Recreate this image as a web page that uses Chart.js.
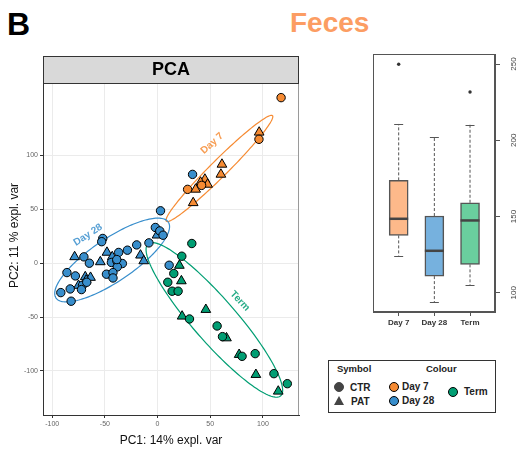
<!DOCTYPE html>
<html>
<head>
<meta charset="utf-8">
<script src="https://cdn.jsdelivr.net/npm/chart.js@4.4.0/dist/chart.umd.min.js"></script>
<style>
  body {
    margin: 0;
    width: 525px;
    height: 450px;
    background: #fff;
    position: relative;
    overflow: hidden;
    font-family: "Liberation Sans", Arial, sans-serif;
  }
  .txt { position: absolute; line-height: 1; white-space: nowrap; }
  canvas { position: absolute; top: 0; }
  #pca { left: 0; }
  #box { left: 360px; }
  #legenda {
    position: absolute; left: 328px; top: 360px;
    width: 168px; height: 53px; box-sizing: border-box;
    border: 1px solid #333;
  }
  .bola { position: absolute; width: 8px; height: 8px; border-radius: 50%; border: 1px solid #000; }
  .tri {
    position: absolute; width: 0; height: 0;
    border-left: 5px solid transparent; border-right: 5px solid transparent;
    border-bottom: 9px solid #444;
  }
</style>
</head>
<body>

<div class="txt" style="left:7px; top:8px; font-size:32px; font-weight:bold;">B</div>
<div class="txt" style="left:290px; top:9px; font-size:28px; font-weight:bold; color:#fc9d63;">Feces</div>

<canvas id="pca" width="310" height="450"></canvas>
<canvas id="box" width="165" height="340"></canvas>

<div id="legenda"></div>
<div class="txt" style="left:337px; top:364px; font-size:9.5px; font-weight:bold; color:#222;">Symbol</div>
<div class="txt" style="left:426px; top:364px; font-size:9.5px; font-weight:bold; color:#222;">Colour</div>

<div class="bola" style="left:334px; top:382px; background:#444; border-color:#444;"></div>
<div class="txt" style="left:350px; top:383px; font-size:10px; font-weight:bold; color:#222;">CTR</div>
<div class="tri" style="left:334px; top:396px;"></div>
<div class="txt" style="left:351px; top:397px; font-size:10px; font-weight:bold; color:#222;">PAT</div>

<div class="bola" style="left:389px; top:382px; background:#F68B33;"></div>
<div class="txt" style="left:402px; top:382px; font-size:10px; font-weight:bold; color:#222;">Day 7</div>
<div class="bola" style="left:389px; top:396px; background:#388ECC;"></div>
<div class="txt" style="left:402px; top:396px; font-size:10px; font-weight:bold; color:#222;">Day 28</div>
<div class="bola" style="left:448px; top:387px; background:#009E73;"></div>
<div class="txt" style="left:464px; top:387px; font-size:10px; font-weight:bold; color:#222;">Term</div>

<script>
//--------------------------------------------------
// DADOS — PCA (PC1, PC2)
//--------------------------------------------------

const grupos      = ['Day 7', 'Day 28', 'Term'];
const coresGrupos = ['#F68B33', '#388ECC', '#009E73'];

const day7CTR = [[117.2,153.8],[96.2,115.1],[41.8,72.3],[28.5,68.6]];
const day7PAT = [[96.4,121.6],[61.1,91.8],[60.1,82.5],[44.9,77.9],[40.8,75.1],
                 [47.5,73.2],[36.1,68.6],[33.8,56.1]];

const day28CTR = [[-2.1,33.2],[2.1,30.0],[5.2,26.0],[-52,23],[-53,20],[-8.2,18.9],
                  [-19.8,17],[-28.6,12.1],[-36.9,10],[-69.9,5.9],[-64.7,0],[-43.8,0.7],
                  [-38.5,1.9],[-33.4,-0.3],[-38.2,-3.4],[-86,-8.7],[-78,-11.8],[-48.5,-10.2],
                  [-42.3,-8.7],[-42.3,-13.7],[-71.2,-20.5],[-72.2,-24.5],[-82.9,-23.9],
                  [-91.8,-27.3],[-82,-35.3],[33.2,82.5],[2.8,48.7],[11,-1.9],[-67.2,-17.7],
                  [-38.7,3.4]];
const day28PAT = [[-0.5,26.0],[-48,10],[-78.7,5.9],[-43,5.9],[-16.2,7.4],[-54.3,1.2],
                  [-13.1,2.1],[-68.6,-12.7],[-63.6,-13.3],[-67.7,-15.8],[-75,-20.7]];

const termCTR = [[32.5,18.3],[23.0,6.5],[15.4,-9.6],[9.7,-17.7],[13.8,-26],[19.5,-26],
                 [30.3,-51.8],[56.5,-58.3],[61.6,-68.2],[80.2,-86.5],[92.6,-84],
                 [110.4,-102.6],[123.1,-111.9]];
const termPAT = [[20.7,-2.1],[22.6,-16.5],[45.8,-43.1],[23.3,-49.3],[65.4,-69.5],
                 [77.4,-84.9],[93.3,-103.5],[114.5,-119]];

const pcaTicksX = [-100, -50, 0, 50, 100];
const pcaTicksY = [-100, -50, 0, 50, 100];

// rótulos das elipses (posição em unidades do PCA)
const rotuloX     = [51.8, -66.0, 78.1];
const rotuloY     = [111.3, 26.3, -35.1];
const rotuloAngle = [-42, -33, 47];

//--------------------------------------------------
// DADOS — BOXPLOT
//--------------------------------------------------

const boxCats   = ['Day 7', 'Day 28', 'Term'];
const boxLow    = [124.2, 93.7, 105.0];
const boxQ1     = [137.6, 110.9, 118.6];
const boxMed    = [148.5, 127.5, 147.4];
const boxQ3     = [173.7, 150.3, 159.0];
const boxHigh   = [210.7, 202.2, 210.3];
const outGrupo  = ['Day 7', 'Term'];
const outValor  = [249.9, 231.7];
const boxTicks  = [100, 150, 200, 250];
const boxCores  = ['#FDB98A', '#76B1DE', '#6ACF9E'];

//--------------------------------------------------
// ELIPSE DE CONFIANÇA (covariância do grupo)
//--------------------------------------------------

const nivelT = 1.75;

function elipse(pontos, t) {
  const n  = pontos.length;
  const mx = pontos.reduce((s, p) => s + p[0], 0) / n;
  const my = pontos.reduce((s, p) => s + p[1], 0) / n;
  let sxx = 0, syy = 0, sxy = 0;
  pontos.forEach(p => {
    sxx += (p[0] - mx) ** 2;
    syy += (p[1] - my) ** 2;
    sxy += (p[0] - mx) * (p[1] - my);
  });
  sxx /= n - 1; syy /= n - 1; sxy /= n - 1;
  const tr = (sxx + syy) / 2;
  const d  = Math.sqrt(((sxx - syy) / 2) ** 2 + sxy ** 2);
  const l1 = tr + d, l2 = Math.max(tr - d, 0);
  return { mx, my, a: t * Math.sqrt(l1), b: t * Math.sqrt(l2), ang: Math.atan2(l1 - sxx, sxy) };
}

const pontosGrupo = [
  day7CTR.concat(day7PAT),
  day28CTR.concat(day28PAT),
  termCTR.concat(termPAT)
];

//--------------------------------------------------
// PLUGIN PCA — elipses, faixa "PCA", título Y
//--------------------------------------------------

const pcaExtras = {
  id: 'pcaExtras',
  beforeDatasetsDraw(chart) {
    const { ctx, scales: { x, y } } = chart;
    ctx.save();
    pontosGrupo.forEach((pts, i) => {
      const e = elipse(pts, nivelT);
      ctx.beginPath();
      for (let k = 0; k <= 160; k++) {
        const th = k / 160 * 2 * Math.PI;
        const dx = e.a * Math.cos(th), dy = e.b * Math.sin(th);
        const vx = e.mx + dx * Math.cos(e.ang) - dy * Math.sin(e.ang);
        const vy = e.my + dx * Math.sin(e.ang) + dy * Math.cos(e.ang);
        const px = x.getPixelForValue(vx), py = y.getPixelForValue(vy);
        if (k === 0) ctx.moveTo(px, py); else ctx.lineTo(px, py);
      }
      ctx.strokeStyle = coresGrupos[i];
      ctx.lineWidth = 1.2;
      ctx.stroke();
    });
    ctx.restore();
  },
  afterDatasetsDraw(chart) {
    const { ctx, scales: { x, y } } = chart;
    ctx.save();
    ctx.font = 'bold 10px "Liberation Sans", Arial, sans-serif';
    ctx.textAlign = 'center';
    ctx.textBaseline = 'middle';
    grupos.forEach((g, i) => {
      ctx.save();
      ctx.translate(x.getPixelForValue(rotuloX[i]), y.getPixelForValue(rotuloY[i]));
      ctx.rotate(rotuloAngle[i] * Math.PI / 180);
      ctx.fillStyle = coresGrupos[i];
      ctx.globalAlpha = 0.85;
      ctx.fillText(g, 0, 0);
      ctx.restore();
    });
    ctx.restore();
  },
  afterDraw(chart) {
    const { ctx, chartArea: a } = chart;
    const topo = a.top - 27;
    ctx.save();

    // moldura clara (direita)
    ctx.strokeStyle = '#9a9a9a';
    ctx.lineWidth = 1;
    ctx.beginPath();
    ctx.moveTo(a.right - 0.5, a.top);
    ctx.lineTo(a.right - 0.5, a.bottom);
    ctx.stroke();

    // faixa do título
    ctx.fillStyle = '#d9d9d9';
    ctx.fillRect(a.left, topo, a.right - a.left, 27);
    ctx.strokeStyle = '#333';
    ctx.strokeRect(a.left + 0.5, topo + 0.5, a.right - a.left - 1, 27);
    ctx.fillStyle = '#000';
    ctx.font = 'bold 18px "Liberation Sans", Arial, sans-serif';
    ctx.textAlign = 'center';
    ctx.textBaseline = 'middle';
    ctx.fillText('PCA', (a.left + a.right) / 2, topo + 14);

    // título do eixo Y (centrado no painel com a faixa)
    ctx.translate(15, (topo + a.bottom) / 2);
    ctx.rotate(-Math.PI / 2);
    ctx.font = '12px "Liberation Sans", Arial, sans-serif';
    ctx.fillStyle = '#111';
    ctx.fillText('PC2: 11 % expl. var', 0, 0);
    ctx.restore();
  }
};

//--------------------------------------------------
// GRÁFICO PCA
//--------------------------------------------------

const series = [
  { g: 0, estilo: 'circle',   pts: day7CTR },
  { g: 0, estilo: 'triangle', pts: day7PAT },
  { g: 1, estilo: 'circle',   pts: day28CTR },
  { g: 1, estilo: 'triangle', pts: day28PAT },
  { g: 2, estilo: 'circle',   pts: termCTR },
  { g: 2, estilo: 'triangle', pts: termPAT }
];

const fonte = '"Liberation Sans", Arial, sans-serif';

new Chart(document.getElementById('pca'), {
  type: 'scatter',
  data: {
    datasets: series.map(s => ({
      label: grupos[s.g],
      data: s.pts.map(p => ({ x: p[0], y: p[1] })),
      pointStyle: s.estilo,
      pointRadius: s.estilo === 'circle' ? 4.2 : 5.6,
      backgroundColor: coresGrupos[s.g],
      borderColor: '#000',
      borderWidth: 1
    }))
  },
  options: {
    responsive: false,
    animation: false,
    layout: { padding: { top: 83, right: 11, bottom: 0, left: 0 } },
    plugins: { legend: { display: false }, tooltip: { enabled: false } },
    scales: {
      x: {
        type: 'linear',
        min: -108.7,
        max: 134.2,
        afterBuildTicks: sc => { sc.ticks = pcaTicksX.map(v => ({ value: v })); },
        afterFit: sc => { sc.height = 35; },
        ticks: { color: '#666', font: { family: fonte, size: 7 }, padding: 2 },
        grid: { color: '#ebebeb', tickColor: '#333', tickLength: 3 },
        border: { color: '#333', width: 1 },
        title: {
          display: true,
          text: 'PC1: 14% expl. var',
          color: '#111',
          font: { family: fonte, size: 12 },
          padding: { top: 0, bottom: 2 }
        }
      },
      y: {
        type: 'linear',
        min: -141,
        max: 167.4,
        afterBuildTicks: sc => { sc.ticks = pcaTicksY.map(v => ({ value: v })); },
        afterFit: sc => { sc.width = 43; },
        ticks: { color: '#666', font: { family: fonte, size: 7 }, padding: 2 },
        grid: { color: '#ebebeb', tickColor: '#333', tickLength: 3 },
        border: { color: '#333', width: 1 }
      }
    }
  },
  plugins: [pcaExtras]
});

//--------------------------------------------------
// PLUGIN BOXPLOT — bigodes, medianas, moldura
//--------------------------------------------------

const boxExtras = {
  id: 'boxExtras',
  afterDatasetsDraw(chart) {
    const { ctx, chartArea: a, scales: { x, y } } = chart;
    ctx.save();
    boxCats.forEach((c, i) => {
      const cx = x.getPixelForValue(i + 1);

      // bigodes tracejados
      ctx.strokeStyle = '#555';
      ctx.lineWidth = 1;
      ctx.setLineDash([3, 2]);
      ctx.beginPath();
      ctx.moveTo(cx, y.getPixelForValue(boxQ3[i]));
      ctx.lineTo(cx, y.getPixelForValue(boxHigh[i]));
      ctx.moveTo(cx, y.getPixelForValue(boxQ1[i]));
      ctx.lineTo(cx, y.getPixelForValue(boxLow[i]));
      ctx.stroke();

      // hastes
      ctx.setLineDash([]);
      ctx.beginPath();
      [boxHigh[i], boxLow[i]].forEach(v => {
        const py = Math.round(y.getPixelForValue(v)) + 0.5;
        ctx.moveTo(cx - 4.5, py);
        ctx.lineTo(cx + 4.5, py);
      });
      ctx.stroke();

      // mediana
      ctx.strokeStyle = '#444';
      ctx.lineWidth = 2.5;
      ctx.beginPath();
      const pm = y.getPixelForValue(boxMed[i]);
      ctx.moveTo(cx - 9.5, pm);
      ctx.lineTo(cx + 9.5, pm);
      ctx.stroke();
    });

    // moldura
    ctx.strokeStyle = '#555';
    ctx.lineWidth = 1;
    ctx.strokeRect(a.left + 0.5, a.top + 0.5, a.right - a.left - 1, a.bottom - a.top - 1);

    // rótulos do eixo Y (girados)
    ctx.fillStyle = '#444';
    ctx.font = '8px ' + fonte;
    ctx.textAlign = 'center';
    ctx.textBaseline = 'middle';
    boxTicks.forEach(v => {
      ctx.save();
      ctx.translate(a.right + 19, y.getPixelForValue(v));
      ctx.rotate(-Math.PI / 2);
      ctx.fillText(String(v), 0, 0);
      ctx.restore();
    });
    ctx.restore();
  }
};

//--------------------------------------------------
// GRÁFICO BOXPLOT
//--------------------------------------------------

new Chart(document.getElementById('box'), {
  type: 'bar',
  data: {
    datasets: [
      {
        type: 'bar',
        data: boxCats.map((c, i) => ({ x: i + 1, y: [boxQ1[i], boxQ3[i]] })),
        backgroundColor: boxCores,
        borderColor: '#555',
        borderWidth: 1.5,
        borderSkipped: false,
        barThickness: 19
      },
      {
        type: 'scatter',
        data: outGrupo.map((g, i) => ({ x: boxCats.indexOf(g) + 1, y: outValor[i] })),
        pointRadius: 1.7,
        backgroundColor: '#333',
        borderWidth: 0
      }
    ]
  },
  options: {
    responsive: false,
    animation: false,
    layout: { padding: { top: 54, left: 13, right: 0, bottom: 0 } },
    plugins: { legend: { display: false }, tooltip: { enabled: false } },
    scales: {
      x: {
        type: 'linear',
        min: 0.28,
        max: 3.7,
        offset: false,
        afterBuildTicks: sc => { sc.ticks = boxCats.map((c, i) => ({ value: i + 1 })); },
        afterFit: sc => { sc.height = 28; },
        ticks: {
          callback: v => boxCats[v - 1],
          color: '#333',
          font: { family: fonte, size: 8, weight: 'bold' },
          padding: 2,
          maxRotation: 0
        },
        grid: { display: true, drawOnChartArea: false, offset: false, tickLength: 4, tickColor: '#555' },
        border: { color: '#555' }
      },
      y: {
        type: 'linear',
        position: 'right',
        min: 87.35,
        max: 256.6,
        afterBuildTicks: sc => { sc.ticks = boxTicks.map(v => ({ value: v })); },
        afterFit: sc => { sc.width = 30; },
        ticks: { display: false },
        grid: { display: true, drawOnChartArea: false, tickLength: 5, tickColor: '#555' },
        border: { color: '#555' }
      }
    }
  },
  plugins: [boxExtras]
});
</script>
</body>
</html>
